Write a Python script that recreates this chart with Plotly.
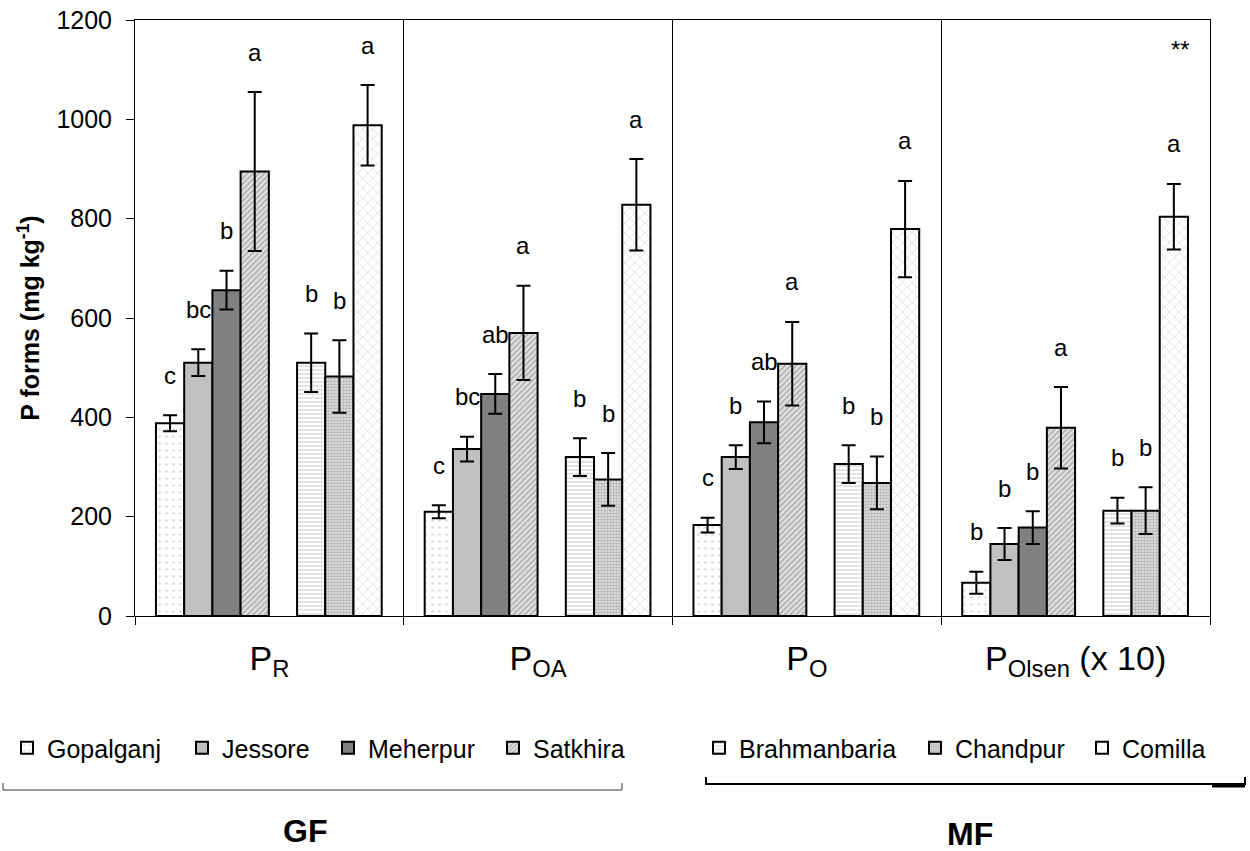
import plotly.graph_objects as go

# ---------------- data ----------------
categories = ["P<sub>R</sub>", "P<sub>OA</sub>", "P<sub>O</sub>", "P<sub>Olsen</sub> (x 10)"]
series_names = ["Gopalganj", "Jessore", "Meherpur", "Satkhira", "Brahmanbaria", "Chandpur", "Comilla"]

gopalganj = [388, 210, 183, 67]
jessore = [510, 336, 320, 145]
meherpur = [656, 447, 390, 178]
satkhira = [895, 570, 508, 379]
brahmanbaria = [510, 320, 306, 212]
chandpur = [482, 275, 268, 212]
comilla = [988, 828, 779, 804]

gopalganj_err = [16, 13, 15, 22]
jessore_err = [27, 25, 24, 32]
meherpur_err = [39, 40, 42, 33]
satkhira_err = [160, 95, 84, 82]
brahmanbaria_err = [59, 38, 38, 26]
chandpur_err = [73, 53, 53, 47]
comilla_err = [81, 92, 97, 66]

gopalganj_letters = ["c", "c", "c", "b"]
jessore_letters = ["bc", "bc", "b", "b"]
meherpur_letters = ["b", "ab", "ab", "b"]
satkhira_letters = ["a", "a", "a", "a"]
brahmanbaria_letters = ["b", "b", "b", "b"]
chandpur_letters = ["b", "b", "b", "b"]
comilla_letters = ["a", "a", "a", "a"]

y_ticks = [0, 200, 400, 600, 800, 1000, 1200]

values = [gopalganj, jessore, meherpur, satkhira, brahmanbaria, chandpur, comilla]
errors = [gopalganj_err, jessore_err, meherpur_err, satkhira_err, brahmanbaria_err, chandpur_err, comilla_err]
letters = [gopalganj_letters, jessore_letters, meherpur_letters, satkhira_letters,
           brahmanbaria_letters, chandpur_letters, comilla_letters]

# ---------------- styles ----------------
FONT = "Liberation Sans, Arial, sans-serif"
patterns = [
    dict(shape=".", fgcolor="#b8b8b8", bgcolor="#ffffff", size=7, solidity=0.12),
    dict(shape="", bgcolor="#c0c0c0", fgcolor="#c0c0c0"),
    dict(shape="", bgcolor="#808080", fgcolor="#808080"),
    dict(shape="/", fgcolor="#7a7a7a", bgcolor="#e4e4e4", size=4, solidity=0.45),
    dict(shape="-", fgcolor="#b0b0b0", bgcolor="#ffffff", size=4, solidity=0.35),
    dict(shape=".", fgcolor="#808080", bgcolor="#e8e8e8", size=3, solidity=0.55),
    dict(shape="x", fgcolor="#b4b4b4", bgcolor="#ffffff", size=7, solidity=0.2),
]
fills = ["#ffffff", "#c0c0c0", "#808080", "#e4e4e4", "#ffffff", "#e8e8e8", "#ffffff"]
slots = [0, 1, 2, 3, 5, 6, 7]          # empty slot between GF and MF groups
bar_w = 0.105
left_gap = 0.078
legends = ["legend"] * 4 + ["legend2"] * 3
legend_widths = [130, 101, 120, 100, 171, 122, 100]

# plot area in pixels
L, R, T, B = 135, 1210, 20, 616
W, H = 1250, 851


def px_x(p):
    return (p - L) / (R - L)


def px_y(p):
    return (B - p) / (B - T)


fig = go.Figure()
annotations = []
for i, name in enumerate(series_names):
    off = -0.5 + left_gap + slots[i] * bar_w
    fig.add_trace(go.Bar(
        name=name,
        x=categories,
        y=values[i],
        width=bar_w,
        offset=off,
        marker=dict(color=fills[i], line=dict(color="black", width=2),
                    pattern=patterns[i]),
        error_y=dict(type="data", array=errors[i], visible=True,
                     color="black", thickness=2, width=7),
        legend=legends[i],
        legendwidth=legend_widths[i],
    ))
    for c in range(len(categories)):
        annotations.append(dict(
            x=c + off + bar_w / 2, y=values[i][c] + errors[i][c],
            xref="x", yref="y", text=letters[i][c], showarrow=False,
            yanchor="middle", yshift=40,
            font=dict(family=FONT, size=24, color="black"),
        ))

annotations.append(dict(x=3 + 0.392, y=1140, xref="x", yref="y", text="**",
                        showarrow=False, yanchor="middle",
                        font=dict(family=FONT, size=24, color="black")))
annotations.append(dict(x=px_x(305), y=px_y(831), xref="paper", yref="paper", text="<b>GF</b>",
                        showarrow=False, xanchor="center", yanchor="middle",
                        font=dict(family=FONT, size=32, color="black")))
annotations.append(dict(x=px_x(970), y=px_y(834), xref="paper", yref="paper", text="<b>MF</b>",
                        showarrow=False, xanchor="center", yanchor="middle",
                        font=dict(family=FONT, size=32, color="black")))

shapes = [
    dict(type="path", xref="paper", yref="paper",
         path=f"M {px_x(3)} {px_y(783)} L {px_x(3)} {px_y(790)} L {px_x(622)} {px_y(790)} L {px_x(622)} {px_y(783)}",
         line=dict(color="#333333", width=1)),
    dict(type="path", xref="paper", yref="paper",
         path=f"M {px_x(706)} {px_y(777)} L {px_x(706)} {px_y(784)} L {px_x(1245)} {px_y(784)} L {px_x(1245)} {px_y(777)}",
         line=dict(color="black", width=2)),
    dict(type="line", xref="paper", yref="paper",
         x0=px_x(1212), x1=px_x(1245), y0=px_y(786), y1=px_y(786),
         line=dict(color="black", width=3)),
]

fig.update_layout(
    width=W, height=H,
    margin=dict(l=L, r=W - R, t=T, b=H - B, autoexpand=False),
    paper_bgcolor="white", plot_bgcolor="white",
    barmode="overlay",
    font=dict(family=FONT, color="black"),
    showlegend=True,
    legend=dict(orientation="h", x=px_x(7), xanchor="left", y=px_y(748), yanchor="middle",
                font=dict(family=FONT, size=25, color="black"), bgcolor="rgba(0,0,0,0)",
                traceorder="normal"),
    legend2=dict(orientation="h", x=px_x(699), xanchor="left", y=px_y(748), yanchor="middle",
                 font=dict(family=FONT, size=25, color="black"), bgcolor="rgba(0,0,0,0)",
                 traceorder="normal"),
    annotations=annotations,
    shapes=shapes,
)

fig.update_xaxes(
    type="category", categoryorder="array", categoryarray=categories,
    range=[-0.5, len(categories) - 0.5], automargin=False,
    showline=True, mirror=True, linecolor="black", linewidth=1,
    ticks="outside", tickson="boundaries", ticklen=8, tickcolor="black",
    showgrid=True, gridcolor="black", gridwidth=1,
    tickfont=dict(family=FONT, size=34, color="black"),
    ticklabelstandoff=12,
)
fig.update_yaxes(
    range=[0, 1200], tickvals=y_ticks, ticktext=[str(v) for v in y_ticks],
    automargin=False,
    showline=True, mirror=True, linecolor="black", linewidth=1,
    ticks="outside", ticklen=8, tickcolor="black",
    showgrid=False, zeroline=False,
    tickfont=dict(family=FONT, size=25, color="black"),
    ticklabelstandoff=9,
    title=dict(text="<b>P forms (mg kg<sup>-1</sup>)</b>", standoff=9,
               font=dict(family=FONT, size=25, color="black")),
)

fig.write_html("out.html")
